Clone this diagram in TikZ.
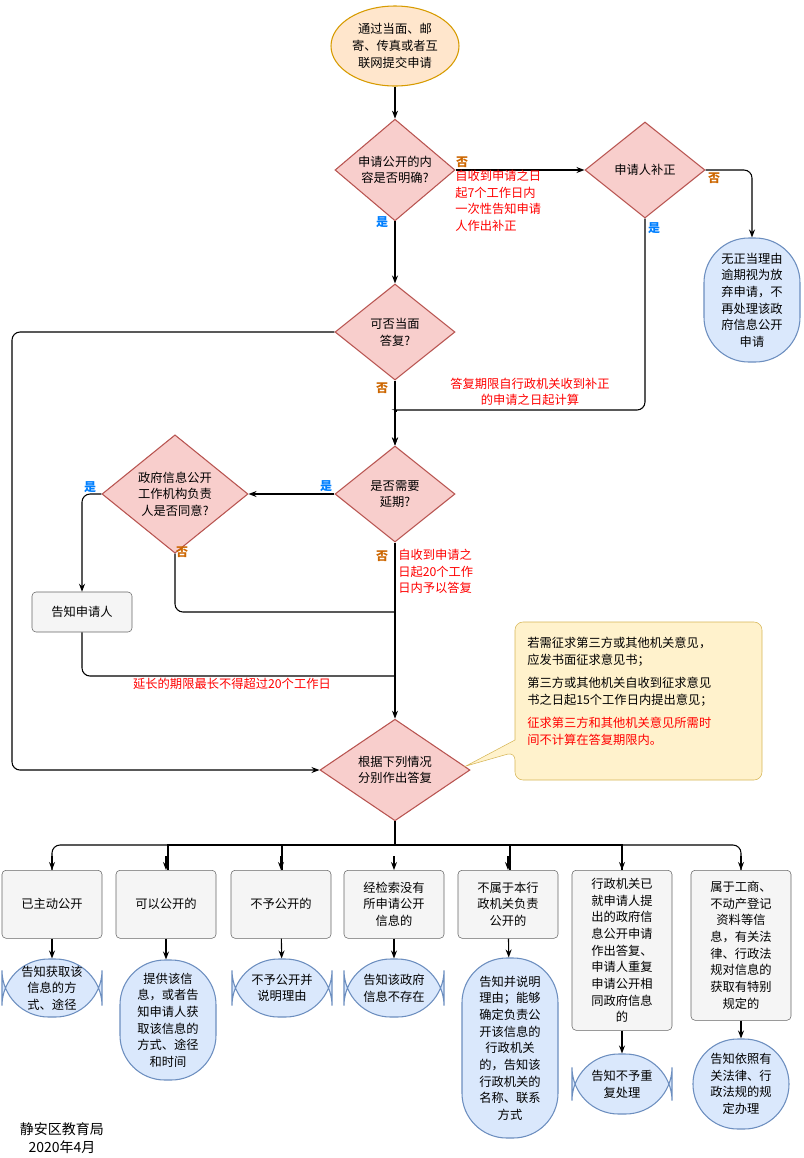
\documentclass[tikz,border=0pt]{standalone}
\usepackage{fontspec}
\setmainfont{Noto Sans CJK SC}
\usetikzlibrary{shapes.geometric,arrows.meta}
\definecolor{orf}{HTML}{FFE6CC}\definecolor{ord}{HTML}{D79B00}
\definecolor{rdf}{HTML}{F8CECC}\definecolor{rdd}{HTML}{B85450}
\definecolor{blf}{HTML}{DAE8FC}\definecolor{bld}{HTML}{6C8EBF}
\definecolor{gyf}{HTML}{F5F5F5}\definecolor{gyd}{HTML}{666666}
\definecolor{ylf}{HTML}{FFF2CC}\definecolor{yld}{HTML}{D6B656}
\definecolor{yes}{HTML}{007FFF}\definecolor{no}{HTML}{CC6600}
\begin{document}
\begin{tikzpicture}[x=0.75pt,y=-0.75pt,font=\fontsize{9.2}{12.5}\selectfont,
 dia/.style 2 args={diamond,draw=rdd,fill=rdf,thick,inner sep=0pt,align=center,minimum width=#1*0.75pt,minimum height=#2*0.75pt},
 box/.style 2 args={rectangle,rounded corners=3pt,draw=gyd,fill=gyf,align=center,minimum width=#1*0.75pt,minimum height=#2*0.75pt,inner sep=1pt},
 blu/.style 2 args={rectangle,rounded corners=#1*0.35pt,draw=bld,fill=blf,thick,align=center,minimum width=#1*0.75pt,minimum height=#2*0.75pt,inner sep=1pt},
 ar/.style={-{Stealth[length=6pt]},thick},
 ln/.style={thick,rounded corners=6pt},
 yl/.style={text=yes,font=\fontsize{9}{10}\selectfont\bfseries},
 nl/.style={text=no,font=\fontsize{9}{10}\selectfont\bfseries},
 rt/.style={text=red,align=left}]
\useasboundingbox (0,0) rectangle (804,1158);
\node[ellipse,draw=ord,fill=orf,thick,align=center,minimum width=128*0.75pt,minimum height=80*0.75pt,inner sep=0pt] (s) at (395,46) {通过当面、邮\\寄、传真或者互\\联网提交申请};
\node[dia={120}{96}] (d1) at (395,170) {申请公开的内\\容是否明确?};
\node[dia={120}{96}] (bz) at (645,170) {申请人补正};
\node[blu={96}{124}] (fq) at (752,300) {无正当理由\\逾期视为放\\弃申请，不\\再处理该政\\府信息公开\\申请};
\node[dia={120}{96}] (d2) at (395,332) {可否当面\\答复?};
\node[dia={120}{96}] (d3) at (395,494) {是否需要\\延期?};
\node[dia={146}{96}] (d4) at (175,494) {政府信息公开\\工作机构负责\\人是否同意?};
\node[box={100}{40}] (gz) at (82,612) {告知申请人};
\node[dia={150}{100}] (d5) at (395,770) {根据下列情况\\分别作出答复};
\coordinate (c1) at (12,332);
\draw[ar] (s) -- (d1);
\draw[ar] (d1) -- (bz);
\draw[ar] (d1) -- (d2);
\draw[ar,rounded corners=6pt] (bz.east) -| (fq.north);
\draw[ar,rounded corners=6pt] (bz.south) |- (520,410) -- (403,410) to[out=180,in=90] (395,418) -- (d3.north);
\draw[ar] (d2) -- (d3);
\draw[ar,rounded corners=6pt] (d2.west) -- (c1) |- (d5.west);
\draw[ar] (d3) -- (d4);
\draw[ar,rounded corners=6pt] (d4.west) -| (gz.north);
\draw[ar] (d3) -- (d5);
\draw[ln] (d4.south) |- (395,612);
\draw[ln] (gz.south) |- (395,676);
\node[nl] (n1) at (462,162) {否};
\node[rt,anchor=north west,inner sep=0pt] (t1) at (455,170) {自收到申请之日\\起7个工作日内\\一次性告知申请\\人作出补正};
\node[yl] (y1) at (382,222) {是};
\node[nl] (n2) at (714,178) {否};
\node[yl] (y2) at (654,228) {是};
\node[nl] (n3) at (382,388) {否};
\node[text=red,align=center] (t2) at (530,392) {答复期限自行政机关收到补正\\的申请之日起计算};
\node[yl] (y3) at (326,486) {是};
\node[yl] (y4) at (90,487) {是};
\node[nl] (n4) at (182,552) {否};
\node[nl] (n5) at (382,556) {否};
\node[rt,anchor=north west,inner sep=0pt] (t3) at (398,549) {自收到申请之\\日起20个工作\\日内予以答复};
\node[text=red] (t4) at (232,684) {延长的期限最长不得超过20个工作日};
\draw[draw=yld,fill=ylf,rounded corners=6pt] (515,740) -- (515,622) -- (762,622) -- (762,780) -- (515,780) -- (515,752) [sharp corners] -- (466,766) -- cycle;
\node[anchor=north west,align=left,inner sep=0pt,text width=225pt] (nt) at (527,637) {若需征求第三方或其他机关意见，\\应发书面征求意见书；\\[5pt]第三方或其他机关自收到征求意见\\书之日起15个工作日内提出意见；\\[5pt]\textcolor{red}{征求第三方和其他机关意见所需时\\间不计算在答复期限内。}};
\coordinate (bus) at (395,845);
\draw[thick] (d5.south) -- (bus);
\foreach \x/\n in {52/b1,168/b2,282/b3,394/b4,510/b5,622/b6,741/b7}{\coordinate (t\n) at (\x,870);}
\draw[thick,rounded corners=6pt] (52,870) |- (bus);
\draw[thick,rounded corners=6pt] (741,870) |- (bus);
\draw[thick] (168,870) |- (bus) (282,870) |- (bus) (510,870) |- (bus) (622,870) |- (bus);
\node[box={100}{68},anchor=north] (b1) at (52,870) {已主动公开};
\node[box={100}{68},anchor=north] (b2) at (166,870) {可以公开的};
\node[box={100}{68},anchor=north] (b3) at (281,870) {不予公开的};
\node[box={100}{68},anchor=north] (b4) at (394,870) {经检索没有\\所申请公开\\信息的};
\node[box={100}{68},anchor=north] (b5) at (508,870) {不属于本行\\政机关负责\\公开的};
\node[box={100}{160},anchor=north] (b6) at (622,870) {行政机关已\\就申请人提\\出的政府信\\息公开申请\\作出答复、\\申请人重复\\申请公开相\\同政府信息\\的};
\node[box={100}{150},anchor=north] (b7) at (741,870) {属于工商、\\不动产登记\\资料等信\\息，有关法\\律、行政法\\规对信息的\\获取有特别\\规定的};
\foreach \n in {b1,b2,b3,b4,b5,b6,b7}{\draw[ar] (\n.north)++(0,-14) -- (\n.north);}
\node[blu={100}{58}] (r1) at (52,988) {告知获取该\\信息的方\\式、途径};
\node[blu={96}{120}] (r2) at (168,1020) {提供该信\\息，或者告\\知申请人获\\取该信息的\\方式、途径\\和时间};
\node[blu={100}{58}] (r3) at (282,988) {不予公开并\\说明理由};
\node[blu={100}{58}] (r4) at (394,988) {告知该政府\\信息不存在};
\node[blu={96}{180}] (r5) at (510,1048) {告知并说明\\理由；能够\\确定负责公\\开该信息的\\行政机关\\的，告知该\\行政机关的\\名称、联系\\方式};
\node[blu={100}{60}] (r6) at (622,1084) {告知不予重\\复处理};
\node[blu={96}{90}] (r7) at (741,1084) {告知依照有\\关法律、行\\政法规的规\\定办理};
\draw[ar] (b1) -- (r1); \draw[ar] (b2.south) -- (r2.north -| b2.south); \draw[ar] (b3) -- (r3);
\draw[ar] (b4) -- (r4); \draw[ar] (b5) -- (r5); \draw[ar] (b6) -- (r6); \draw[ar] (b7) -- (r7);
\node[align=center,font=\fontsize{10.5}{13}\selectfont] (ft) at (62,1138) {静安区教育局\\2020年4月};
\end{tikzpicture}
\end{document}
